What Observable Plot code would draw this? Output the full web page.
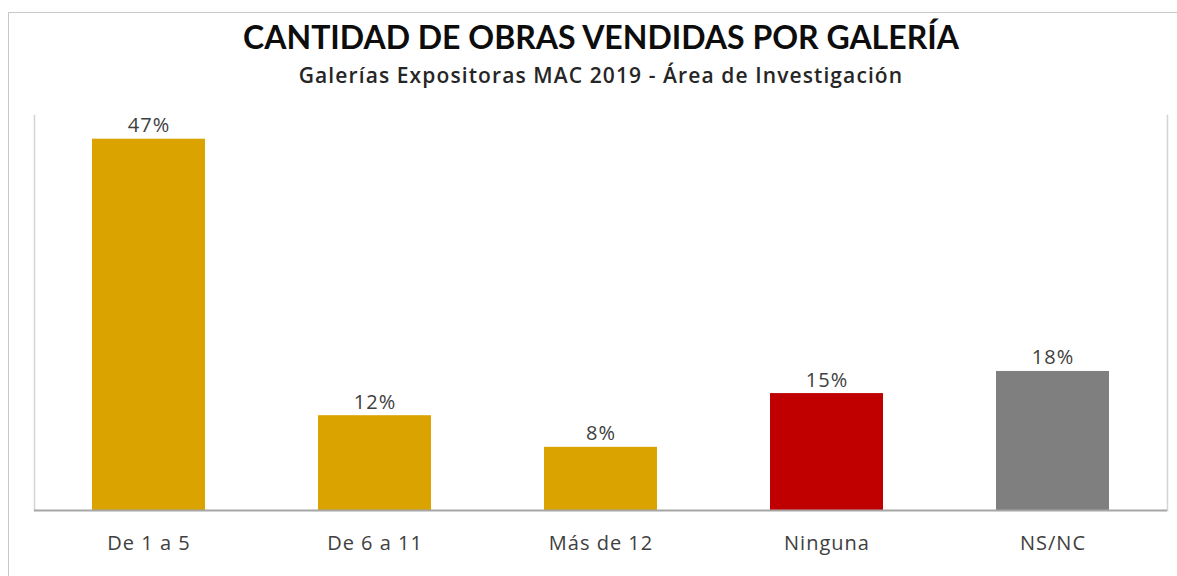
<!DOCTYPE html>
<html>
<head>
<meta charset="utf-8">
<script src="https://cdn.jsdelivr.net/npm/d3@7"></script>
<script src="https://cdn.jsdelivr.net/npm/@observablehq/plot@0.6"></script>
<style>
  html, body { margin: 0; padding: 0; background: #fff; overflow: hidden; }
  #wrap { position: relative; width: 1177px; height: 576px; font-family: Lato, "Open Sans", sans-serif; }
  #border { position: absolute; left: 8px; top: 12px; width: 1200px; height: 600px; border: 1px solid #c8c8c8; box-sizing: border-box; }
  #title { position: absolute; left: 0; width: 1202px; top: 15px; text-align: center; font-weight: bold; font-size: 32px; color: #0d0d0d; line-height: 44px; }
  #subtitle { position: absolute; left: 0; width: 1202px; top: 61px; text-align: center; font-family: "Open Sans", sans-serif; font-weight: 600; font-size: 21px; letter-spacing: 1.1px; color: #262626; line-height: 28px; }
  #chart { position: absolute; left: 0; top: 0; }
</style>
</head>
<body>
<div id="wrap">
  <div id="border"></div>
  <div id="chart"></div>
  <div id="title">CANTIDAD DE OBRAS VENDIDAS POR GALERÍA</div>
  <div id="subtitle">Galerías Expositoras MAC 2019 - Área de Investigación</div>
</div>
<script>
const categories = ["De 1 a 5", "De 6 a 11", "Más de 12", "Ninguna", "NS/NC"];
const values = [0.47, 0.12, 0.08, 0.148, 0.176];
const colors = ["#DAA300", "#DAA300", "#DAA300", "#C00000", "#7F7F7F"];

const data = categories.map((c, i) => ({ category: c, value: values[i], color: colors[i] }));

const chart = Plot.plot({
  width: 1177,
  height: 576,
  marginTop: 115,
  marginBottom: 66,
  marginLeft: 34,
  marginRight: 10,
  style: { fontFamily: "'Open Sans', sans-serif", background: "transparent", letterSpacing: "1px" },
  x: { domain: categories, paddingInner: 0.5, paddingOuter: 0.25, label: null },
  y: { domain: [0, 0.5], axis: null },
  marks: [
    Plot.frame({ anchor: "left", stroke: "#d4d4d4", strokeWidth: 1.5 }),
    Plot.frame({ anchor: "right", stroke: "#d4d4d4", strokeWidth: 1.5 }),
    Plot.barY(data, { x: "category", y: "value", fill: "color" }),
    Plot.ruleY([0], { stroke: "#a6a6a6", strokeWidth: 2 }),
    Plot.text(data, {
      x: "category", y: "value", text: d => d3.format(".0%")(d.value),
      lineAnchor: "bottom", dy: -7, fontSize: 20, fill: "#404040"
    }),
    Plot.axisX({ tickSize: 0, tickPadding: 25, fontSize: 20, color: "#404040", label: null })
  ]
});
document.getElementById("chart").appendChild(chart);
</script>
</body>
</html>
